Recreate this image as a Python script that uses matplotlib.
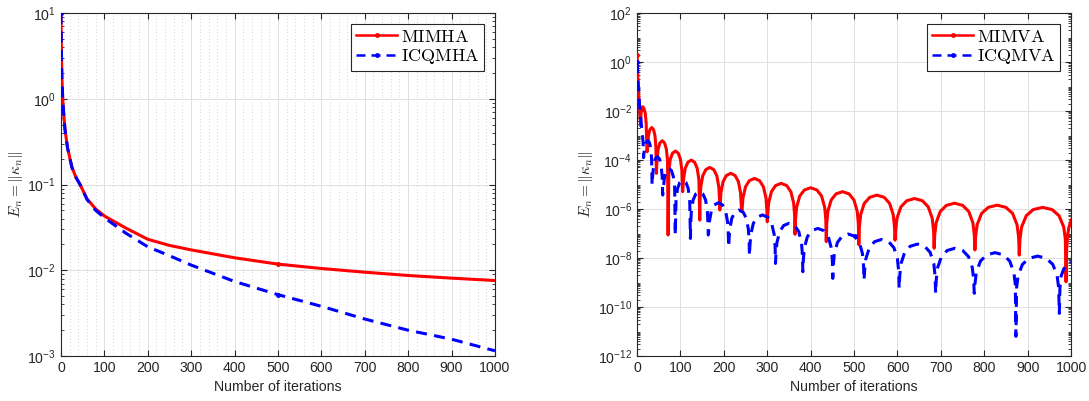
import numpy as np
import matplotlib
matplotlib.use('Agg')
import matplotlib.pyplot as plt
from matplotlib.ticker import LogLocator, NullFormatter, MultipleLocator, FixedLocator

# Left panel: MIMHA vs ICQMHA
iter_mimha = [0, 1, 2, 4, 6, 9, 15, 25, 35, 44, 60, 80, 100, 150, 200, 250, 300,
              400, 500, 600, 700, 800, 900, 1000]
err_mimha = [10, 3.5, 1.8, 1.0, 0.7, 0.45, 0.27, 0.16, 0.12, 0.1, 0.068, 0.052, 0.043,
             0.031, 0.023, 0.0195, 0.0173, 0.014, 0.0118, 0.0105, 0.0095, 0.0087,
             0.0081, 0.0076]
iter_icqmha = [0, 1, 2, 4, 6, 9, 15, 25, 35, 44, 60, 80, 100, 150, 200, 250, 300,
               400, 500, 600, 700, 800, 900, 1000]
err_icqmha = [10, 3.5, 1.8, 1.0, 0.7, 0.45, 0.27, 0.16, 0.12, 0.1, 0.067, 0.05, 0.041,
              0.027, 0.0188, 0.0148, 0.0115, 0.0074, 0.0052, 0.0038, 0.0027, 0.002,
              0.00157, 0.00115]

# Right panel: MIMVA vs ICQMVA (log10 of the error)
iter_mimva = [0, 2, 4, 6, 8,
              9, 11, 13, 16, 19, 21, 23,
              24.1, 26.2, 29.5, 33.8, 38.1, 41.3, 43.4, 44.5,
              45.9, 48.6, 52.6, 58.0, 63.4, 67.5, 70.2, 71.5,
              73.2, 76.5, 81.6, 88.3, 95.0, 100.0, 103.3, 105,
              107.0, 110.9, 116.9, 124.8, 132.7, 138.6, 142.5, 144.5,
              145.2, 146.8, 151.4, 158.4, 167.6, 176.8, 183.8, 188.4, 190.0, 190.7,
              191.5, 193.2, 198.2, 205.8, 215.9, 225.9, 233.5, 238.5, 240.2, 241,
              241.9, 244.0, 249.9, 258.7, 270.5, 282.3, 291.2, 297.1, 299.1, 300,
              301.0, 303.2, 309.6, 319.2, 332.0, 344.8, 354.4, 360.8, 363.0, 364,
              365.1, 367.6, 374.8, 385.6, 400.0, 414.4, 425.2, 432.4, 434.9, 436,
              437.1, 439.8, 447.3, 458.5, 473.5, 488.5, 499.8, 507.3, 509.9, 511,
              512.3, 515.2, 523.5, 536.1, 552.8, 569.5, 582.0, 590.3, 593.2, 594.5,
              595.9, 599.0, 608.0, 621.5, 639.5, 657.5, 671.0, 680.0, 683.2, 684.5,
              685.9, 689.2, 698.6, 712.7, 731.5, 750.3, 764.4, 773.8, 777.1, 778.5,
              780.0, 783.6, 793.8, 809.2, 829.6, 850.0, 865.4, 875.6, 879.2, 880.7,
              882.3, 886.1, 896.9, 913.0, 934.6, 956.2, 972.3, 983.1, 986.9, 988.5,
              990, 992, 995, 1000]
log_mimva = [0.3, -0.7, -1.4, -1.9, -2.6,
             -2.1, -1.9, -1.82, -1.9, -2.1, -2.5, -3.66,
             -3.47, -3.01, -2.76, -2.67, -2.76, -3.01, -3.47, -4.54,
             -4.01, -3.55, -3.30, -3.21, -3.30, -3.55, -4.01, -7.06,
             -4.43, -3.97, -3.72, -3.63, -3.72, -3.97, -4.43, -5.29,
             -4.80, -4.34, -4.09, -4.00, -4.09, -4.34, -4.80, -6.45,
             -5.60, -5.10, -4.64, -4.39, -4.30, -4.39, -4.64, -5.10, -5.60, -6.04,
             -5.84, -5.34, -4.88, -4.63, -4.54, -4.63, -4.88, -5.34, -5.84, -6.10,
             -6.05, -5.55, -5.09, -4.84, -4.75, -4.84, -5.09, -5.55, -6.05, -6.52,
             -6.25, -5.75, -5.29, -5.04, -4.95, -5.04, -5.29, -5.75, -6.25, -7.03,
             -6.43, -5.93, -5.47, -5.22, -5.13, -5.22, -5.47, -5.93, -6.43, -7.33,
             -6.59, -6.09, -5.63, -5.38, -5.29, -5.38, -5.63, -6.09, -6.59, -7.45,
             -6.73, -6.23, -5.77, -5.52, -5.43, -5.52, -5.77, -6.23, -6.73, -7.27,
             -6.87, -6.37, -5.91, -5.66, -5.57, -5.66, -5.91, -6.37, -6.87, -7.60,
             -7.06, -6.56, -6.10, -5.85, -5.76, -5.85, -6.10, -6.56, -7.06, -7.67,
             -7.14, -6.64, -6.18, -5.93, -5.84, -5.93, -6.18, -6.64, -7.14, -7.88,
             -7.23, -6.73, -6.27, -6.02, -5.93, -6.02, -6.27, -6.73, -7.23, -8.97,
             -7.6, -7.1, -6.75, -6.45]
iter_icqmva = [0, 3, 6, 9, 12, 14, 15,
               16.0, 17.9, 20.9, 24.8, 28.7, 31.7, 33.6, 34.6,
               35.8, 38.3, 41.9, 46.8, 51.7, 55.3, 57.8, 59,
               60.5, 63.4, 67.7, 73.5, 79.3, 83.7, 86.6, 88,
               89.8, 93.3, 98.5, 105.5, 112.5, 117.8, 121.3, 123,
               123.6, 125.1, 129.2, 135.3, 143.5, 151.7, 157.9, 162.0, 163.4, 164,
               164.7, 166.4, 171.1, 178.1, 187.5, 196.9, 204.0, 208.7, 210.3, 211,
               211.7, 213.4, 218.2, 225.4, 235.0, 244.6, 251.8, 256.6, 258.3, 259,
               259.9, 262.0, 268.0, 277.0, 289.0, 301.0, 310.0, 316.0, 318.1, 319,
               319.9, 322.2, 328.5, 337.9, 350.5, 363.1, 372.6, 378.9, 381.1, 382,
               383.0, 385.5, 392.4, 402.7, 416.5, 430.3, 440.7, 447.6, 450.0, 451,
               452.1, 454.6, 461.8, 472.6, 487.0, 501.4, 512.2, 519.4, 521.9, 523,
               524.2, 527.1, 535.2, 547.3, 563.5, 579.7, 591.9, 600.0, 602.8, 604,
               605.3, 608.2, 616.6, 629.2, 646.0, 662.8, 675.4, 683.8, 686.7, 688,
               689.3, 692.5, 701.4, 714.7, 732.5, 750.3, 763.7, 772.6, 775.7, 777,
               778.4, 781.8, 791.4, 805.8, 825.0, 844.2, 858.6, 868.2, 871.6, 873,
               874.5, 878.0, 888.0, 903.0, 923.0, 943.0, 958.0, 968.0, 971.5, 973,
               974.5, 977, 983, 992, 1000]
log_icqmva = [0.0, -1.0, -1.8, -2.4, -2.9, -3.3, -3.9,
              -3.70, -3.54, -3.29, -3.20, -3.29, -3.54, -4.00, -5.02,
              -4.66, -4.20, -3.95, -3.86, -3.95, -4.20, -4.66, -5.43,
              -5.14, -4.68, -4.43, -4.34, -4.43, -4.68, -5.14, -7.06,
              -5.62, -5.16, -4.91, -4.82, -4.91, -5.16, -5.62, -7.20,
              -6.59, -6.09, -5.63, -5.38, -5.29, -5.38, -5.63, -6.09, -6.59, -7.06,
              -7.00, -6.54, -6.08, -5.83, -5.74, -5.83, -6.08, -6.54, -7.04, -7.54,
              -7.34, -6.84, -6.38, -6.13, -6.04, -6.13, -6.38, -6.84, -7.34, -7.90,
              -7.54, -7.04, -6.58, -6.33, -6.24, -6.33, -6.58, -7.04, -7.54, -8.22,
              -7.88, -7.38, -6.92, -6.67, -6.58, -6.67, -6.92, -7.38, -7.88, -8.56,
              -8.09, -7.59, -7.13, -6.88, -6.79, -6.88, -7.13, -7.59, -8.09, -8.83,
              -8.32, -7.82, -7.36, -7.11, -7.02, -7.11, -7.36, -7.82, -8.32, -8.90,
              -8.54, -8.04, -7.58, -7.33, -7.24, -7.33, -7.58, -8.04, -8.54, -9.24,
              -8.73, -8.23, -7.77, -7.52, -7.43, -7.52, -7.77, -8.23, -8.73, -9.44,
              -8.90, -8.40, -7.94, -7.69, -7.60, -7.69, -7.94, -8.40, -8.90, -9.44,
              -9.08, -8.58, -8.12, -7.87, -7.78, -7.87, -8.12, -8.58, -9.08, -11.2,
              -9.22, -8.72, -8.26, -8.01, -7.92, -8.01, -8.26, -8.72, -9.22, -10.26,
              -9.2, -8.75, -8.45, -8.25, -8.15]

plt.rcParams['font.family'] = ['Liberation Sans', 'DejaVu Sans']
plt.rcParams['mathtext.fontset'] = 'cm'
txt = '#262626'

fig = plt.figure(figsize=(10.89, 4.01), dpi=100)
ax1 = fig.add_axes([0.056, 0.1122, 0.3985, 0.855])
ax2 = fig.add_axes([0.585, 0.1122, 0.3985, 0.855])


def mark_idx(xs, targets):
    xs = np.asarray(xs, dtype=float)
    return [int(np.argmin(np.abs(xs - t))) for t in targets]


dash = (3.6, 2.4)
ax1.plot(iter_mimha, err_mimha, '-', color='red', lw=2.2, marker='.', ms=5,
         markevery=mark_idx(iter_mimha, [0, 500]), label=r'$\mathrm{MIMHA}$', zorder=3)
ax1.plot(iter_icqmha, err_icqmha, '--', color='blue', lw=2.2, dashes=dash, marker='.', ms=5,
         markevery=mark_idx(iter_icqmha, [0, 500]), label=r'$\mathrm{ICQMHA}$', zorder=3)

ax2.plot(iter_mimva, 10.0 ** np.array(log_mimva), '-', color='red', lw=2.2, marker='.', ms=5,
         markevery=mark_idx(iter_mimva, [0]), label=r'$\mathrm{MIMVA}$', zorder=3)
ax2.plot(iter_icqmva, 10.0 ** np.array(log_icqmva), '--', color='blue', lw=2.2, dashes=dash,
         marker='.', ms=5, markevery=mark_idx(iter_icqmva, [0, 500]),
         label=r'$\mathrm{ICQMVA}$', zorder=3)

for ax in (ax1, ax2):
    ax.set_yscale('log')
    ax.set_xlim(0, 1000)
    ax.xaxis.set_major_locator(MultipleLocator(100))
    ax.grid(True, which='major', color='#dedede', lw=0.7)
    ax.set_axisbelow(True)
    ax.tick_params(which='both', direction='in', top=True, right=True, colors=txt,
                   labelsize=10.2)
    ax.tick_params(which='major', length=4)
    ax.tick_params(which='minor', length=2.2)
    for s in ax.spines.values():
        s.set_color(txt)
        s.set_linewidth(0.8)
    ax.set_xlabel('Number of iterations', color=txt, fontsize=10.2, labelpad=4)
    ax.set_ylabel(r'$E_n = \|\kappa_n\|$', color=txt, fontsize=11, labelpad=2)
    leg = ax.legend(loc='upper right', fontsize=13, frameon=True, fancybox=False,
                    edgecolor='#262626', framealpha=1, handlelength=2.3,
                    borderaxespad=0.6, borderpad=0.25, labelspacing=0.1, handletextpad=0.2)
    leg.get_frame().set_linewidth(0.8)
    for h in leg.get_lines():
        h.set_linewidth(1.8)

# left panel: vertical dotted minor grid
ax1.set_ylim(1e-3, 1e1)
ax1.xaxis.set_minor_locator(MultipleLocator(20))
ax1.tick_params(axis='x', which='minor', length=0)
ax1.grid(True, which='minor', axis='x', color='#c8c8c8', lw=0.6, ls=(0, (1, 3)))
ax1.yaxis.set_minor_locator(LogLocator(base=10, subs=np.arange(2, 10), numticks=50))
ax1.yaxis.set_minor_formatter(NullFormatter())

# right panel: labels every two decades
ax2.set_ylim(1e-12, 1e2)
ax2.yaxis.set_major_locator(FixedLocator([10.0 ** k for k in range(-12, 3, 2)]))
ax2.yaxis.set_minor_locator(LogLocator(base=10, subs=np.arange(1, 10), numticks=100))
ax2.yaxis.set_minor_formatter(NullFormatter())

fig.savefig('out.png', dpi=100)
